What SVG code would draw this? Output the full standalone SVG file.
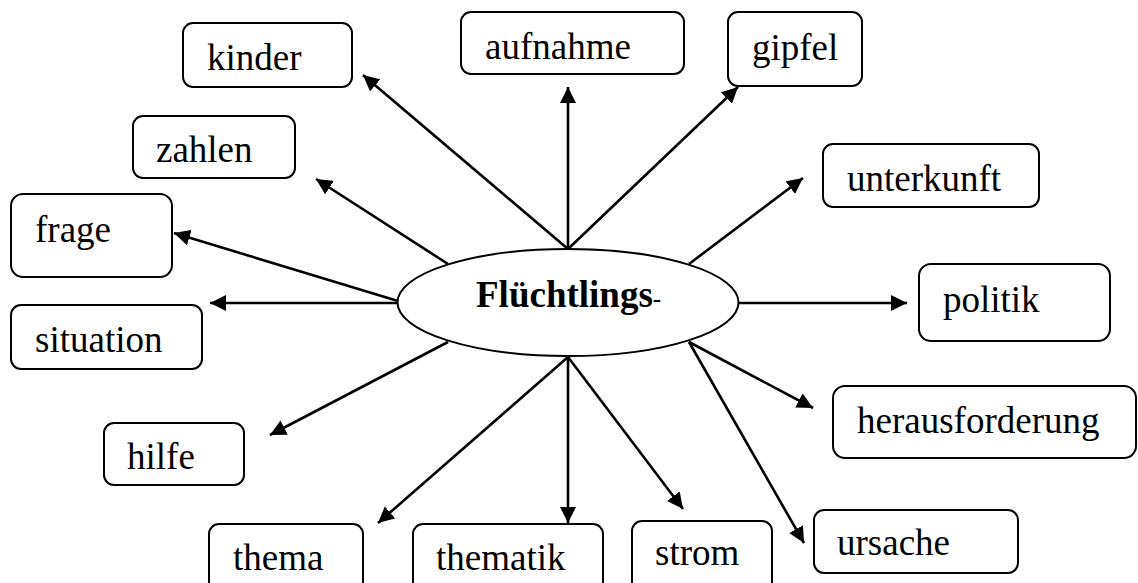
<svg xmlns="http://www.w3.org/2000/svg" width="1138" height="583" viewBox="0 0 1138 583">
  <style>
    .box { fill: #ffffff; stroke: #000000; stroke-width: 2; }
    .lbl { font-family: 'Liberation Serif', 'DejaVu Serif', serif; font-size: 37px; fill: #000000; }
    .hub { fill: #ffffff; stroke: #000000; stroke-width: 2; }
    .hubtxt { font-family: 'Liberation Serif', 'DejaVu Serif', serif; font-size: 37px; font-weight: bold; fill: #000000; }
    .dash { font-size: 25px; font-weight: normal; }
    .edge { stroke: #000000; stroke-width: 2.6; fill: none; marker-end: url(#arrow); }
  </style>
  <defs>
    <marker id="arrow" markerUnits="userSpaceOnUse" markerWidth="17" markerHeight="16" refX="16" refY="8" orient="auto">
      <path d="M0,0 L16,8 L0,16 z" fill="#000000"/>
    </marker>
  </defs>
  <rect width="1138" height="583" fill="#ffffff"/>

  <!-- connectors from the central ellipse -->
  <g id="connectors">
    <line class="edge" x1="568" y1="249" x2="363" y2="75"/>
    <line class="edge" x1="568" y1="249" x2="568" y2="87"/>
    <line class="edge" x1="568" y1="249" x2="738" y2="87"/>
    <line class="edge" x1="448" y1="264" x2="316" y2="179"/>
    <line class="edge" x1="689" y1="264" x2="803" y2="178"/>
    <line class="edge" x1="398" y1="301" x2="174" y2="233"/>
    <line class="edge" x1="398" y1="303" x2="210" y2="303"/>
    <line class="edge" x1="739" y1="303" x2="907" y2="303"/>
    <line class="edge" x1="448" y1="342" x2="270" y2="435"/>
    <line class="edge" x1="689" y1="342" x2="813" y2="408"/>
    <line class="edge" x1="689" y1="342" x2="804" y2="543"/>
    <line class="edge" x1="568" y1="357" x2="378" y2="523"/>
    <line class="edge" x1="568" y1="357" x2="568" y2="523"/>
    <line class="edge" x1="568" y1="357" x2="683" y2="509"/>
  </g>

  <g id="node-center">
    <ellipse class="hub" cx="568" cy="302.5" rx="170.5" ry="53.5"/>
    <text class="hubtxt" x="476" y="307">Flüchtlings<tspan class="dash">-</tspan></text>
  </g>

  <g id="node-kinder">
    <rect class="box" x="183" y="23" width="169" height="64" rx="10"/>
    <text class="lbl" x="207" y="70">kinder</text>
  </g>
  <g id="node-aufnahme">
    <rect class="box" x="461" y="12" width="223" height="62" rx="10"/>
    <text class="lbl" x="485" y="59">aufnahme</text>
  </g>
  <g id="node-gipfel">
    <rect class="box" x="728" y="12" width="134" height="74" rx="10"/>
    <text class="lbl" x="752" y="60">gipfel</text>
  </g>
  <g id="node-zahlen">
    <rect class="box" x="133" y="116" width="162" height="62" rx="10"/>
    <text class="lbl" x="156" y="162">zahlen</text>
  </g>
  <g id="node-unterkunft">
    <rect class="box" x="823" y="144" width="216" height="63" rx="10"/>
    <text class="lbl" x="847" y="191">unterkunft</text>
  </g>
  <g id="node-frage">
    <rect class="box" x="11" y="194" width="161" height="83" rx="12"/>
    <text class="lbl" x="35" y="242">frage</text>
  </g>
  <g id="node-situation">
    <rect class="box" x="11" y="305" width="191" height="64" rx="10"/>
    <text class="lbl" x="35" y="352">situation</text>
  </g>
  <g id="node-politik">
    <rect class="box" x="919" y="264" width="191" height="77" rx="12"/>
    <text class="lbl" x="943" y="312">politik</text>
  </g>
  <g id="node-hilfe">
    <rect class="box" x="104" y="423" width="140" height="62" rx="10"/>
    <text class="lbl" x="127" y="469">hilfe</text>
  </g>
  <g id="node-herausforderung">
    <rect class="box" x="833" y="386" width="303" height="72" rx="12"/>
    <text class="lbl" x="857" y="433">herausforderung</text>
  </g>
  <g id="node-thema">
    <rect class="box" x="209" y="524" width="154" height="80" rx="10"/>
    <text class="lbl" x="233" y="570">thema</text>
  </g>
  <g id="node-thematik">
    <rect class="box" x="413" y="524" width="190" height="80" rx="10"/>
    <text class="lbl" x="436" y="570">thematik</text>
  </g>
  <g id="node-strom">
    <rect class="box" x="632" y="521" width="140" height="80" rx="10"/>
    <text class="lbl" x="655" y="565">strom</text>
  </g>
  <g id="node-ursache">
    <rect class="box" x="814" y="510" width="204" height="63" rx="10"/>
    <text class="lbl" x="837" y="555">ursache</text>
  </g>
</svg>
